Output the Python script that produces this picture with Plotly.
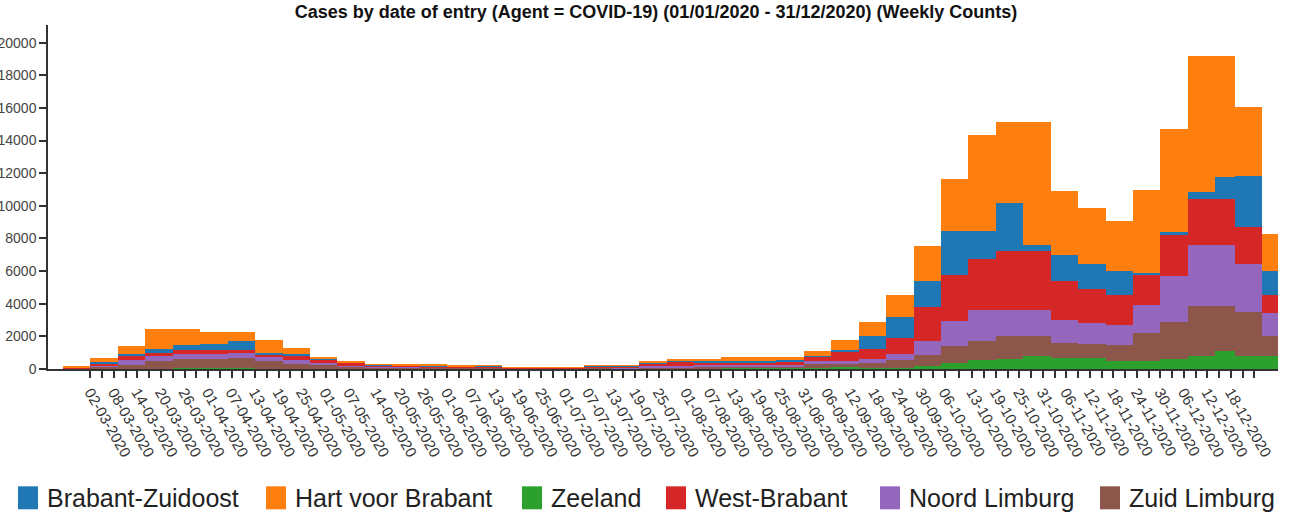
import pandas as pd
import plotly.graph_objects as go

# weekly buckets (start of each week), last bucket ends at period_end
week_start = [
    '2020-02-24', '2020-03-02', '2020-03-09', '2020-03-16', '2020-03-23', '2020-03-30',
    '2020-04-06', '2020-04-13', '2020-04-20', '2020-04-27', '2020-05-04', '2020-05-11',
    '2020-05-18', '2020-05-25', '2020-06-01', '2020-06-08', '2020-06-15', '2020-06-22',
    '2020-06-29', '2020-07-06', '2020-07-13', '2020-07-20', '2020-07-27', '2020-08-03',
    '2020-08-10', '2020-08-17', '2020-08-24', '2020-08-31', '2020-09-07', '2020-09-14',
    '2020-09-21', '2020-09-28', '2020-10-05', '2020-10-12', '2020-10-19', '2020-10-26',
    '2020-11-02', '2020-11-09', '2020-11-16', '2020-11-23', '2020-11-30', '2020-12-07',
    '2020-12-14', '2020-12-19', '2020-12-26',
]
period_end = '2020-12-30'

# stacked bottom -> top
zeeland = [0, 0, 10, 10, 40, 80, 80, 30, 10, 5, 5, 5, 5,
           5, 5, 5, 5, 5, 5, 5, 10,
           20, 20, 30, 35, 35, 35, 40, 100,
           50, 80, 170, 380, 580, 600, 790, 700, 680, 480, 480, 620, 800, 1090, 800, 785]
zuid_limburg = [40, 170, 260, 450, 560, 560, 600, 480, 300, 240, 140, 90, 80,
                70, 60, 80, 40, 35, 40, 80, 50,
                80, 90, 110, 140, 130, 130, 270, 180,
                330, 500, 660, 1060, 1160, 1410, 1220, 900, 880, 1020, 1730, 2250, 3080, 2790, 2700, 1260]
noord_limburg = [15, 70, 290, 330, 290, 280, 310, 250, 260, 110, 60, 40, 40,
                 30, 30, 30, 15, 15, 15, 30, 30,
                 60, 60, 80, 90, 90, 100, 160, 200,
                 250, 370, 880, 1490, 1900, 1630, 1630, 1390, 1260, 1220, 1730, 2850, 3730, 3730, 2960, 1390]
west_brabant = [25, 120, 230, 200, 250, 270, 180, 150, 200, 170, 170, 90, 80,
                70, 60, 50, 25, 25, 25, 40, 90,
                160, 270, 200, 120, 130, 160, 270, 610,
                570, 960, 2100, 2850, 3100, 3570, 3570, 2390, 2080, 1830, 1840, 2510, 2810, 2810, 2240, 1120]
brabant_zuidoost = [20, 60, 160, 260, 360, 330, 530, 60, 170, 140, 30, 20, 20,
                    20, 20, 20, 10, 10, 15, 40, 20,
                    20, 20, 80, 120, 130, 140, 50, 100,
                    810, 1280, 1570, 2650, 1690, 2990, 410, 1630, 1550, 1430, 100, 170, 450, 1370, 3100, 1430]
hart_voor_brabant = [50, 265, 445, 1210, 960, 760, 550, 815, 350, 85, 55, 50, 50,
                     80, 100, 30, 15, 10, 10, 20, 15,
                     140, 160, 80, 240, 230, 200, 300, 610,
                     870, 1360, 2180, 3220, 5920, 4920, 7500, 3900, 3410, 3120, 5060, 6310, 8290, 7370, 4250, 2290]

tick_labels = [
    '02-03-2020', '08-03-2020', '14-03-2020', '20-03-2020', '26-03-2020', '01-04-2020',
    '07-04-2020', '13-04-2020', '19-04-2020', '25-04-2020', '01-05-2020', '07-05-2020',
    '14-05-2020', '20-05-2020', '26-05-2020', '01-06-2020', '07-06-2020', '13-06-2020',
    '19-06-2020', '25-06-2020', '01-07-2020', '07-07-2020', '13-07-2020', '19-07-2020',
    '25-07-2020', '01-08-2020', '07-08-2020', '13-08-2020', '19-08-2020', '25-08-2020',
    '31-08-2020', '06-09-2020', '12-09-2020', '18-09-2020', '24-09-2020', '30-09-2020',
    '06-10-2020', '13-10-2020', '19-10-2020', '25-10-2020', '31-10-2020', '06-11-2020',
    '12-11-2020', '18-11-2020', '24-11-2020', '30-11-2020', '06-12-2020', '12-12-2020',
    '18-12-2020', '24-12-2020',
]
y_ticks = [0, 2000, 4000, 6000, 8000, 10000, 12000, 14000, 16000, 18000, 20000]

series = [
    ('Zeeland', zeeland, '#2ca02c'),
    ('Zuid Limburg', zuid_limburg, '#8c564b'),
    ('Noord Limburg', noord_limburg, '#9467bd'),
    ('West-Brabant', west_brabant, '#d62728'),
    ('Brabant-Zuidoost', brabant_zuidoost, '#1f77b4'),
    ('Hart voor Brabant', hart_voor_brabant, '#ff7f0e'),
]
legend_order = ['Brabant-Zuidoost', 'Hart voor Brabant', 'Zeeland',
                'West-Brabant', 'Noord Limburg', 'Zuid Limburg']

starts = pd.to_datetime(week_start)
edges = starts.append(pd.DatetimeIndex([pd.Timestamp(period_end)]))
widths = [(edges[i + 1] - edges[i]).total_seconds() * 1000 for i in range(len(starts))]

tick_dates = pd.to_datetime(tick_labels, format='%d-%m-%Y')
minor_dates = [tick_dates[i] + (tick_dates[i + 1] - tick_dates[i]) / 2
               for i in range(len(tick_dates) - 1)]

fig = go.Figure()
for name, vals, color in series:
    fig.add_trace(go.Bar(
        x=starts, y=vals, width=widths, offset=0,
        name=name, marker=dict(color=color, line=dict(width=0)),
        showlegend=False,
        hovertemplate=name + '<br>%{x|%d-%m-%Y}: %{y}<extra></extra>',
    ))

# legend drawn below the axis, large swatches like the original
L, R, T, B = 48, 18, 25, 145.5
W, H = 1296 - L - R, 515 - T - B
def px_x(px):
    return (px - L) / W
def px_y(py):
    return (515 - B - py) / H

colors = {n: c for n, _, c in series}
legend_x = [18, 266, 522, 666, 880, 1100]
for lx, name in zip(legend_x, legend_order):
    fig.add_shape(type='rect', xref='paper', yref='paper',
                  x0=px_x(lx), x1=px_x(lx + 20), y0=px_y(487), y1=px_y(510),
                  fillcolor=colors[name], line=dict(width=0))
    fig.add_annotation(xref='paper', yref='paper', x=px_x(lx + 27), y=px_y(498.5),
                       text=name, showarrow=False, xanchor='left', yanchor='middle',
                       font=dict(family='Liberation Sans, Arial', size=25, color='#222'))

axis_col = '#333'
fig.update_layout(
    barmode='stack',
    width=1296, height=515,
    margin=dict(l=L, r=R, t=T, b=B, autoexpand=False),
    plot_bgcolor='white', paper_bgcolor='white',
    title=dict(text='Cases by date of entry (Agent = COVID-19) (01/01/2020 - 31/12/2020) (Weekly Counts)',
               x=656 / 1296, xref='container', xanchor='center',
               y=1 - 12 / 515, yref='container', yanchor='middle',
               font=dict(family='Liberation Sans, Arial', size=18, weight='bold', color='#111')),
    showlegend=False,
    xaxis=dict(
        type='date', automargin=False,
        range=['2020-02-20 04:00', '2020-12-30'],
        tickmode='array', tickvals=tick_dates, ticktext=tick_labels,
        tickangle=60,
        ticks='outside', ticklen=7, tickwidth=1.5, tickcolor=axis_col,
        minor=dict(tickmode='array', tickvals=minor_dates, ticks='outside',
                   ticklen=7, tickwidth=1.5, tickcolor=axis_col, showgrid=False),
        showline=True, linecolor=axis_col, linewidth=1.5,
        showgrid=False, zeroline=False,
        tickfont=dict(family='Liberation Sans, Arial', size=15, color='#333'),
    ),
    yaxis=dict(
        range=[0, 21080], automargin=False,
        tickmode='array', tickvals=y_ticks, ticktext=[str(v) for v in y_ticks],
        ticks='outside', ticklen=7, tickwidth=1.5, tickcolor=axis_col,
        showline=True, linecolor=axis_col, linewidth=1.5,
        showgrid=False, zeroline=False,
        tickfont=dict(family='Liberation Sans, Arial', size=14, color='#444'),
    ),
)

# the page's default body margin would shift the figure by 8px
fig.write_html('out.html', config={'displayModeBar': False},
               post_script="document.body.style.margin='0';")
